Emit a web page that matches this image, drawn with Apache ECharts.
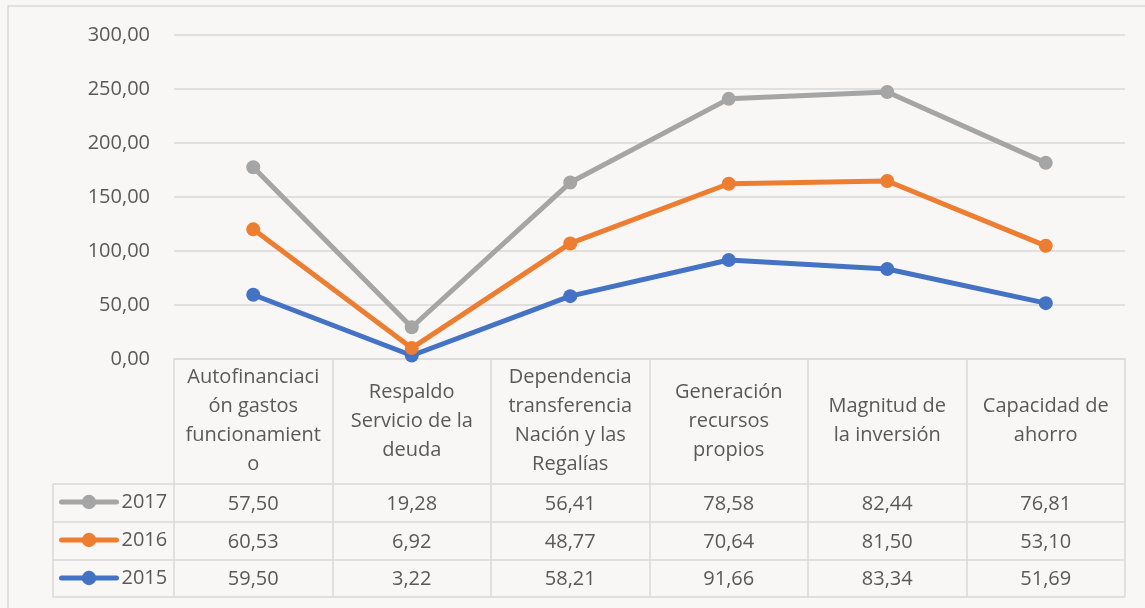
<!DOCTYPE html>
<html>
<head>
<meta charset="utf-8">
<script src="https://cdn.jsdelivr.net/npm/echarts@6/dist/echarts.min.js"></script>
<style>
html,body{margin:0;padding:0;background:#f8f7f6;}
#chart{width:1145px;height:608px;}
</style>
</head>
<body>
<div id="chart"></div>
<script>
const categories = [
  'Autofinanciaci\nón gastos\nfuncionamient\no',
  'Respaldo\nServicio de la\ndeuda',
  'Dependencia\ntransferencia\nNación y las\nRegalías',
  'Generación\nrecursos\npropios',
  'Magnitud de\nla inversión',
  'Capacidad de\nahorro'
];
const years = ['2017', '2016', '2015'];
const values2015 = [59.50, 3.22, 58.21, 91.66, 83.34, 51.69];
const values2016 = [60.53, 6.92, 48.77, 70.64, 81.50, 53.10];
const values2017 = [57.50, 19.28, 56.41, 78.58, 82.44, 76.81];
const yTicks = [0, 50, 100, 150, 200, 250, 300];

const FONT = 'Open Sans';
const TXT = '#595959';
const LINE = '#d9d9d9';
const FS = 20;
const fmt = v => Number(v).toFixed(2).replace('.', ',');

const chart = echarts.init(document.getElementById('chart'));

function rowAxis(data, margin) {
  return {
    type: 'category', gridIndex: 0, position: 'bottom', data: data.map(fmt),
    boundaryGap: true,
    axisLine: {show: false}, axisTick: {show: false}, splitLine: {show: false},
    axisLabel: {interval: 0, margin: margin, verticalAlign: 'middle',
      fontFamily: FONT, fontSize: FS, color: TXT}
  };
}

const seriesDefs = [
  {name: '2015', data: values2015, color: '#4472c4'},
  {name: '2016', data: values2016, color: '#ed7d31'},
  {name: '2017', data: values2017, color: '#a5a5a5'}
];

chart.setOption({
  backgroundColor: '#f8f7f6',
  animation: false,
  graphic: [{
    type: 'rect', shape: {x: 8, y: 6, width: 1160, height: 620},
    style: {fill: 'none', stroke: LINE, lineWidth: 1.5}, silent: true, z: -1
  }],
  legend: {
    orient: 'vertical', left: 54, top: 487, padding: 5,
    data: years, itemWidth: 55, itemHeight: 18, itemGap: 18,
    lineStyle: {width: 5, cap: 'round'},
    textStyle: {fontFamily: FONT, fontSize: FS, color: TXT, lineHeight: 20}
  },
  grid: [
    {left: 174, right: 20, top: 35, bottom: 249},
    {left: 53, right: 20, top: 484, height: 113}
  ],
  xAxis: [
    {
      type: 'category', gridIndex: 0, data: categories, boundaryGap: true,
      axisLine: {show: true, lineStyle: {color: LINE, width: 1.5}},
      axisTick: {show: true, length: 238, lineStyle: {color: LINE, width: 1.5}},
      axisLabel: {interval: 0, margin: 62, verticalAlign: 'middle', lineHeight: 29,
        fontFamily: FONT, fontSize: FS, color: TXT}
    },
    rowAxis(values2017, 145),
    rowAxis(values2016, 183),
    rowAxis(values2015, 220),
    {type: 'value', gridIndex: 1, show: false}
  ],
  yAxis: [
    {
      type: 'value', gridIndex: 0, min: yTicks[0], max: yTicks[yTicks.length - 1], interval: 50,
      axisLine: {show: false}, axisTick: {show: false},
      splitLine: {lineStyle: {color: LINE, width: 1.5}},
      axisLabel: {margin: 24, formatter: fmt, fontFamily: FONT, fontSize: FS, color: TXT}
    },
    {
      type: 'category', gridIndex: 1, data: ['2015', '2016', '2017'], boundaryGap: true,
      axisLine: {show: true, lineStyle: {color: LINE, width: 1.5}},
      axisTick: {show: false}, axisLabel: {show: false},
      splitLine: {show: true, lineStyle: {color: LINE, width: 1.5}}
    }
  ],
  series: seriesDefs.map(s => ({
    name: s.name, type: 'line', stack: 'total', data: s.data,
    xAxisIndex: 0, yAxisIndex: 0,
    symbol: 'circle', symbolSize: 14,
    lineStyle: {color: s.color, width: 5},
    itemStyle: {color: s.color}
  }))
});
</script>
</body>
</html>
